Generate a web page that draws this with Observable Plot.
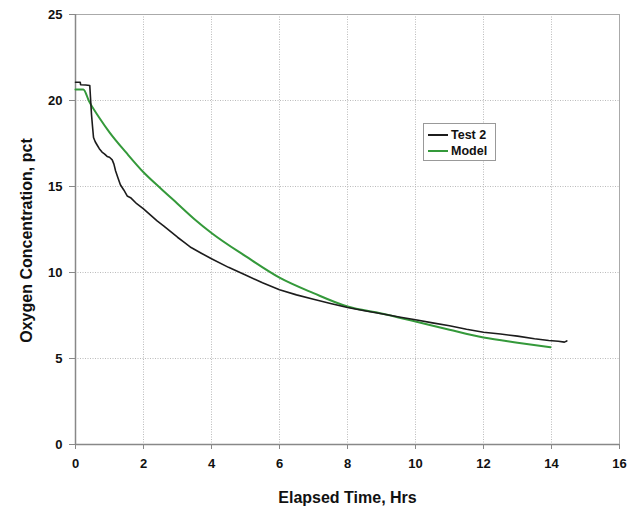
<!DOCTYPE html>
<html>
<head>
<meta charset="utf-8">
<script src="https://cdn.jsdelivr.net/npm/d3@7"></script>
<script src="https://cdn.jsdelivr.net/npm/@observablehq/plot@0.6"></script>
<style>
  html, body { margin: 0; padding: 0; background: #fff; }
  #wrap { position: relative; width: 639px; height: 506px; }
  #legend {
    position: absolute; left: 423px; top: 123px; width: 73px; height: 38px;
    border: 1px solid #999; background: #fff; box-sizing: border-box;
    font-family: "Liberation Sans", Arial, sans-serif; font-weight: bold; font-size: 12.5px; color: #111;
    padding: 3px 0 0 4px;
  }
  #legend .row { display: flex; align-items: center; height: 16px; }
  #legend .sw { width: 20px; height: 0; margin-right: 3px; }
</style>
</head>
<body>
<div id="wrap">
  <div id="chart"></div>
  <div id="legend"></div>
</div>
<script>
// ---- data ----
const seriesNames = ["Test 2", "Model"];
const seriesColors = ["#1c1c1c", "#34993a"];
const xTicks = [0, 2, 4, 6, 8, 10, 12, 14, 16];
const yTicks = [0, 5, 10, 15, 20, 25];

const test2Time = [0, 0.14, 0.15, 0.3, 0.42, 0.44, 0.47, 0.5, 0.53, 0.58, 0.64, 0.7, 0.78, 0.85, 0.93, 1.0, 1.08, 1.13, 1.18, 1.25, 1.32, 1.42, 1.52, 1.62, 1.8, 2.0, 2.2, 2.4, 2.6, 2.8, 3.0, 3.2, 3.4, 3.7, 4.0, 4.5, 5.0, 5.5, 6.0, 6.5, 7.0, 7.5, 8.0, 8.5, 9.0, 9.56, 10.0, 10.5, 11.0, 11.5, 12.0, 12.5, 13.0, 13.5, 13.92, 14.2, 14.38, 14.45];
const test2O2   = [21.06, 21.06, 20.92, 20.9, 20.87, 20.2, 19.2, 18.5, 17.85, 17.6, 17.4, 17.2, 17.0, 16.9, 16.75, 16.7, 16.55, 16.3, 15.9, 15.5, 15.1, 14.8, 14.45, 14.35, 14.0, 13.7, 13.35, 13.0, 12.7, 12.37, 12.05, 11.75, 11.45, 11.12, 10.8, 10.3, 9.85, 9.4, 9.0, 8.7, 8.45, 8.2, 7.97, 7.78, 7.6, 7.4, 7.25, 7.07, 6.9, 6.7, 6.53, 6.42, 6.3, 6.15, 6.05, 6.0, 5.95, 6.02];

const modelTime = [0, 0.23, 0.4, 0.7, 1.0, 1.5, 2.0, 2.5, 3.0, 3.5, 4.0, 5.0, 6.0, 7.0, 8.0, 9.0, 10.0, 11.0, 12.0, 13.0, 13.97];
const modelO2   = [20.64, 20.64, 19.95, 19.0, 18.15, 16.95, 15.83, 14.9, 14.0, 13.1, 12.3, 10.95, 9.7, 8.8, 8.02, 7.62, 7.15, 6.67, 6.22, 5.92, 5.66];

const test2 = test2Time.map((t, i) => ({t, o: test2O2[i]}));
const model = modelTime.map((t, i) => ({t, o: modelO2[i]}));

const font = '"Liberation Sans", Arial, sans-serif';

const chart = Plot.plot({
  width: 639,
  height: 506,
  marginLeft: 75,
  marginRight: 20,
  marginTop: 14,
  marginBottom: 62,
  style: { fontFamily: font, fontWeight: "bold", fontSize: "13px", color: "#111", background: "#fff" },
  x: { domain: [0, 16], ticks: xTicks, label: null },
  y: { domain: [0, 25], ticks: yTicks, label: null },
  marks: [
    Plot.gridX(xTicks, { stroke: "#bbb", strokeOpacity: 1, strokeDasharray: "1,1.5" }),
    Plot.gridY(yTicks, { stroke: "#bbb", strokeOpacity: 1, strokeDasharray: "1,1.5" }),
    Plot.frame({ stroke: "#aaa" }),
    Plot.ruleX([0], { stroke: "#888", strokeWidth: 1.5 }),
    Plot.ruleY([0], { stroke: "#888", strokeWidth: 1.5 }),
    Plot.axisX({ ticks: xTicks, tickSize: 5, tickPadding: 9, stroke: "#888", label: null, fontSize: 13, fontWeight: "bold" }),
    Plot.axisY({ ticks: yTicks, tickSize: 6, tickPadding: 7, stroke: "#888", label: null, fontSize: 13, fontWeight: "bold" }),
    Plot.text(["Elapsed Time, Hrs"], { frameAnchor: "bottom", dy: 53, textAnchor: "middle", lineAnchor: "middle", fontSize: 16, fontWeight: "bold", fill: "#111" }),
    Plot.text(["Oxygen Concentration, pct"], { frameAnchor: "left", dx: -49, dy: 11, rotate: -90, textAnchor: "middle", lineAnchor: "middle", fontSize: 16, fontWeight: "bold", fill: "#111" }),
    Plot.line(model, { x: "t", y: "o", stroke: seriesColors[1], strokeWidth: 2, curve: "monotone-x" }),
    Plot.line(test2, { x: "t", y: "o", stroke: seriesColors[0], strokeWidth: 1.6, curve: "linear" })
  ]
});
document.getElementById("chart").appendChild(chart);

const legend = document.getElementById("legend");
seriesNames.forEach((name, i) => {
  const row = document.createElement("div");
  row.className = "row";
  const sw = document.createElement("div");
  sw.className = "sw";
  sw.style.borderTop = `2px solid ${seriesColors[i]}`;
  const label = document.createElement("span");
  label.textContent = name;
  row.appendChild(sw);
  row.appendChild(label);
  legend.appendChild(row);
});
</script>
</body>
</html>
